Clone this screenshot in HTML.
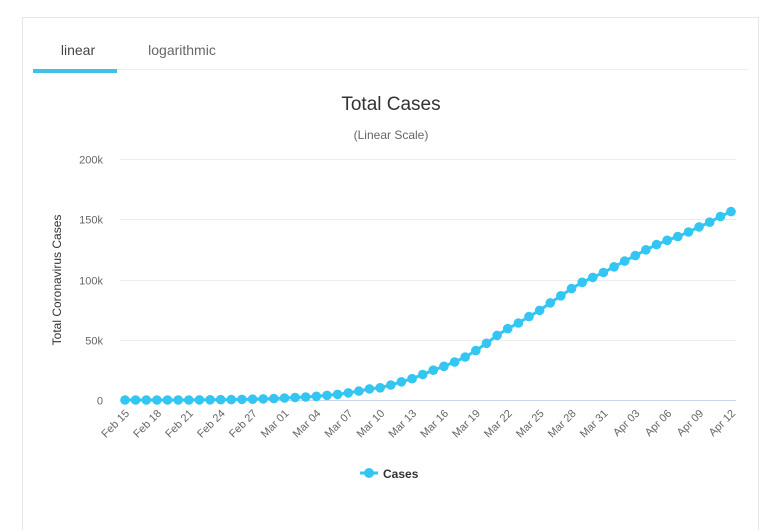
<!DOCTYPE html>
<html><head><meta charset="utf-8"><style>
body{margin:0;background:#fff;width:760px;height:530px;overflow:hidden;font-family:"Liberation Sans","DejaVu Sans",sans-serif}
</style></head><body>
<svg id="s" width="760" height="530" xmlns="http://www.w3.org/2000/svg" style="position:absolute;left:0;top:0">
<rect x="22.5" y="17.5" width="736" height="520" fill="#fff" stroke="#e6e6e6"/>
<text x="78" y="55" font-size="14" fill="#444" text-anchor="middle">linear</text>
<text x="182" y="55" font-size="14" fill="#666" text-anchor="middle">logarithmic</text>
<line x1="117" y1="69.5" x2="748" y2="69.5" stroke="#eee"/>
<rect x="33" y="69" width="84" height="4" fill="#3fc1e6"/>
<text x="391" y="110" font-size="19" fill="#333" text-anchor="middle">Total Cases</text>
<text x="391" y="139" font-size="12" fill="#666" text-anchor="middle">(Linear Scale)</text>
<text transform="translate(61,280) rotate(-90)" font-size="12" fill="#333" text-anchor="middle">Total Coronavirus Cases</text>
<g id="g"></g>
<line x1="360" y1="473" x2="378" y2="473" stroke="#33c6f2" stroke-width="3"/>
<circle cx="369" cy="473" r="5" fill="#33c6f2"/>
<text x="383" y="478" font-size="12" font-weight="bold" fill="#333">Cases</text>
</svg>
<script>
var d=[3,3,3,3,3,3,20,79,157,229,323,470,655,889,1128,1694,2036,2502,3089,3858,4636,5883,7375,9172,10149,12462,15113,17660,21157,24747,27980,31506,35713,41035,47021,53578,59138,63927,69176,74386,80589,86498,92472,97689,101739,105792,110574,115242,119827,124632,128948,132547,135586,139422,143626,147577,152271,156363];
var g=document.getElementById('g'),h='';
var X=function(i){return 125+i*(731-125)/57},Y=function(v){return 400-v*241/200000};
[0,50000,100000,150000,200000].forEach(function(v,k){var y=Math.round(Y(v))+0.5;
h+='<line x1="120" y1="'+y+'" x2="736" y2="'+y+'" stroke="'+(k?'#ececec':'#ccd6eb')+'"/>';
h+='<text x="103" y="'+(y+4)+'" font-size="11" fill="#666" text-anchor="end">'+(v?v/1000+'k':'0')+'</text>';});
var m=['Feb','Mar','Apr'];
for(var i=0;i<58;i+=3){var dt=new Date(2020,1,15+i);var lab=m[dt.getMonth()-1]+' '+('0'+dt.getDate()).slice(-2);
h+='<text transform="translate('+(X(i)+5)+',414) rotate(-45)" font-size="11" fill="#666" text-anchor="end">'+lab+'</text>';}
var p=d.map(function(v,i){return X(i).toFixed(1)+','+Y(v).toFixed(1)}).join(' ');
h+='<polyline points="'+p+'" fill="none" stroke="#33c6f2" stroke-width="3"/>';
d.forEach(function(v,i){h+='<circle cx="'+X(i).toFixed(1)+'" cy="'+Y(v).toFixed(1)+'" r="4.8" fill="#33c6f2"/>'});
g.innerHTML=h;
</script>
</body></html>
